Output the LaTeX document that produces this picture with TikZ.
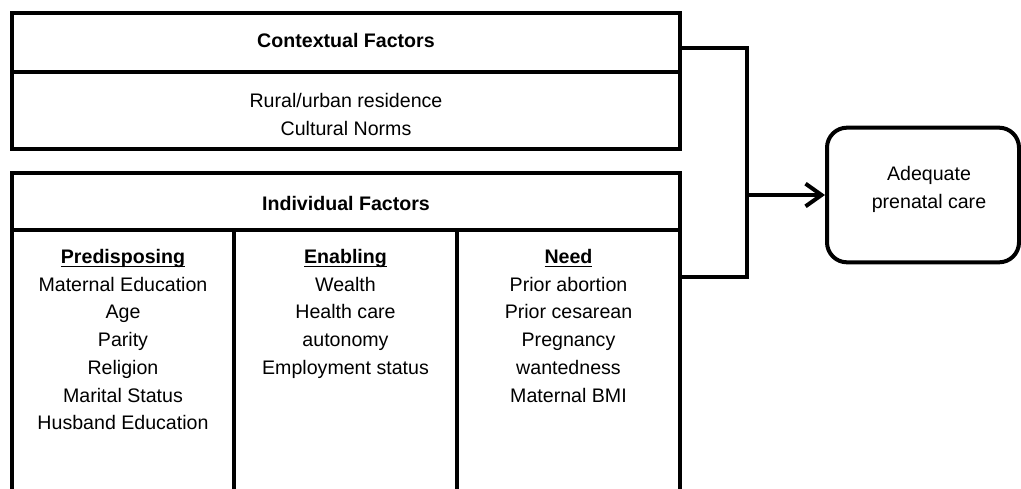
\documentclass[tikz,border=0pt]{standalone}
\usepackage{fontspec}
\setmainfont{Liberation Sans}
\usetikzlibrary{arrows.meta,fit}
% underline drawn as a rule through the descender zone
\newcommand\hdul[1]{\setbox0\hbox{#1}\rlap{\rule[-2.8pt]{\wd0}{1.1pt}}\box0}
\begin{document}
\begin{tikzpicture}[x=0.75pt,y=-0.75pt,
  frame/.style={draw,line width=3pt,inner sep=0pt},
  txt/.style={font=\fontsize{14.7}{20.8}\selectfont,align=center,inner sep=0pt},
  hdr/.style={txt,font=\fontsize{14.7}{20.8}\selectfont\bfseries},
  rule/.style={line width=3pt},
  link/.style={line width=3pt},
  tip/.style={link,-{Straight Barb[length=12pt,width=17pt]}}]
\useasboundingbox[fill=white] (0,0) rectangle (1021,489);

% contextual factors block
\coordinate (ctxNW) at (12,13);
\coordinate (ctxSE) at (680,149);
\node[frame,fit=(ctxNW)(ctxSE)] (ctx) {};
\draw[rule] (12,72) -- (680,72);
\node[hdr,anchor=base] (ctxhd) at (346,47) {Contextual Factors};
\node[txt,anchor=north] (ctxbody) at (346,93) {Rural/urban residence\\Cultural Norms};

% individual factors block (open at the bottom)
\coordinate (indNW) at (12,173);
\coordinate (indSE) at (680,489);
\node[inner sep=0pt,fit=(indNW)(indSE)] (ind) {};
\draw[rule] (ind.south west) -- (ind.north west) -- (ind.north east) -- (ind.south east);
\draw[rule] (12,230) -- (680,230);
\draw[rule] (234,230) -- (234,489);
\draw[rule] (457,230) -- (457,489);
\node[hdr,anchor=base] (indhd) at (346,210) {Individual Factors};
\node[txt,anchor=north] (pre) at (123,249)
  {\hdul{\bfseries Predisposing}\\Maternal Education\\Age\\Parity\\Religion\\Marital Status\\Husband Education};
\node[txt,anchor=north] (ena) at (345.5,249)
  {\hdul{\bfseries Enabling}\\Wealth\\Health care\\autonomy\\Employment status};
\node[txt,anchor=north] (nee) at (568.5,249)
  {\hdul{\bfseries Need}\\Prior abortion\\Prior cesarean\\Pregnancy\\wantedness\\Maternal BMI};

% outcome
\node[draw,line width=3pt,rounded corners=15pt,minimum width=144pt,minimum height=101pt,inner sep=0pt] (out) at (923,195) {};
\node[txt,anchor=north] (outlbl) at (929,166) {Adequate\\prenatal care};

% bracket joining both blocks, arrow to the outcome
\coordinate (jt) at (747,48);
\coordinate (jb) at (747,277);
\draw[link] (ctx.east |- jt) -- (jt) -- (jb) -- (ind.east |- jb);
\draw[tip] (jt |- out.west) -- (out.west);
\end{tikzpicture}
\end{document}
